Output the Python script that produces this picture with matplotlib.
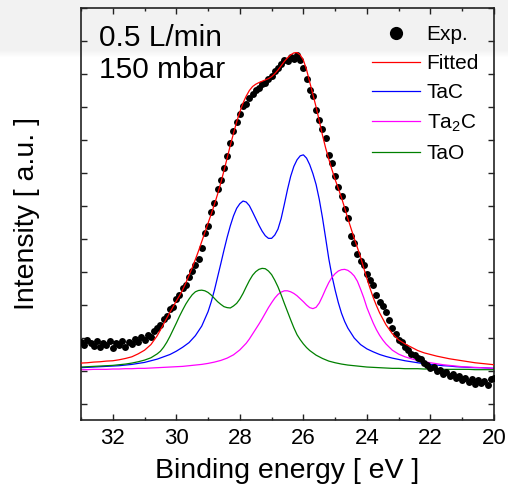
import numpy as np
import matplotlib
matplotlib.use("Agg")
import matplotlib.pyplot as plt
from matplotlib.ticker import MultipleLocator

plt.rcParams['font.family'] = ['Liberation Sans', 'DejaVu Sans']
plt.rcParams['mathtext.fontset'] = 'custom'
plt.rcParams['mathtext.rm'] = 'Liberation Sans'
plt.rcParams['mathtext.it'] = 'Liberation Sans:italic'


def grid(start, stop, step):
    """Binding-energy positions from start down to stop (inclusive)."""
    n = int(round((start - stop) / step)) + 1
    return np.round(start - step * np.arange(n), 2)


# ---------------- data ----------------
# experimental points: binding energy 33.0 -> 20.0 eV, step 0.1
exp_energy = grid(33.0, 20.0, 0.1)
exp_intensity = [
    1.88, 1.80, 1.93, 1.84, 1.76, 1.90, 1.72, 1.85, 1.78, 1.92,
    1.70, 1.86, 1.79, 1.91, 1.74, 1.88, 1.83, 1.96, 1.87, 2.02,
    1.94, 2.08, 2.04, 2.22, 2.30, 2.38, 2.58, 2.66, 2.88, 2.95,
    3.18, 3.30, 3.52, 3.62, 3.86, 4.02, 4.22, 4.40, 4.74, 5.18,
    5.40, 5.82, 6.10, 6.50, 6.78, 7.15, 7.52, 7.92, 8.28, 8.55,
    8.78, 9.02, 9.10, 9.28, 9.40, 9.52, 9.58, 9.70, 9.72, 9.86,
    9.95, 10.08, 10.18, 10.30, 10.42, 10.38, 10.52, 10.45, 10.58, 10.42,
    10.18, 9.85, 9.50, 9.32, 8.90, 8.62, 8.32, 8.05, 7.55, 7.30,
    6.90, 6.58, 6.30, 5.90, 5.65, 5.10, 4.88, 4.55, 4.32, 4.20,
    3.95, 3.76, 3.62, 3.30, 3.10, 2.98, 2.78, 2.55, 2.30, 2.12,
    1.95, 1.88, 1.72, 1.65, 1.52, 1.48, 1.38, 1.36, 1.25, 1.18,
    1.08, 1.12, 1.00, 1.04, 0.92, 0.96, 0.84, 0.90, 0.78, 0.86,
    0.72, 0.80, 0.66, 0.76, 0.62, 0.74, 0.64, 0.70, 0.58, 0.76,
    0.80,
]

# Fitted envelope
fitted_energy = np.concatenate([grid(33.0, 30.2, 0.2), grid(30.0, 23.6, 0.1),
                                grid(23.4, 20.0, 0.2)])
fitted = [
    1.24, 1.25, 1.27, 1.28, 1.30, 1.31, 1.34, 1.38, 1.43, 1.52,
    1.63, 1.80, 2.07, 2.42, 2.78,
    3.12, 3.28, 3.46, 3.67, 3.90, 4.13, 4.38, 4.64, 4.92, 5.20,
    5.48, 5.76, 6.05, 6.36, 6.70, 7.07, 7.45, 7.84, 8.20, 8.55,
    8.85, 9.12, 9.33, 9.50, 9.62, 9.69, 9.74, 9.78, 9.82, 9.86,
    9.92, 10.01, 10.12, 10.25, 10.38, 10.49, 10.58, 10.64, 10.65, 10.58,
    10.42, 10.13, 9.75, 9.38, 9.00, 8.58, 8.15, 7.76, 7.42, 7.10,
    6.80, 6.53, 6.25, 5.94, 5.62, 5.32, 5.02, 4.74, 4.45, 4.12,
    3.80, 3.50, 3.22, 2.98, 2.76,
    2.40, 2.13, 1.94, 1.82, 1.72, 1.62, 1.55, 1.50, 1.45, 1.41,
    1.37, 1.34, 1.31, 1.28, 1.25, 1.23, 1.21, 1.19,
]

# TaC component
tac_energy = np.concatenate([grid(33.0, 29.2, 0.2), grid(29.0, 24.6, 0.1),
                             grid(24.4, 20.0, 0.2)])
tac = [
    1.10, 1.11, 1.12, 1.13, 1.14, 1.15, 1.16, 1.18, 1.20, 1.23,
    1.26, 1.31, 1.36, 1.43, 1.50, 1.60, 1.72, 1.86, 2.07, 2.36,
    2.80, 3.10, 3.45, 3.85, 4.25, 4.66, 5.05, 5.40, 5.70, 5.93,
    6.07, 6.15, 6.12, 6.01, 5.82, 5.62, 5.42, 5.24, 5.10, 5.02,
    5.02, 5.12, 5.30, 5.62, 6.05, 6.50, 6.90, 7.20, 7.40, 7.52,
    7.55, 7.45, 7.25, 6.98, 6.65, 6.20, 5.65, 5.03, 4.40, 3.88,
    3.45, 3.07, 2.75, 2.50, 2.30,
    2.00, 1.80, 1.67, 1.58, 1.50, 1.44, 1.39, 1.35, 1.31, 1.28,
    1.25, 1.22, 1.20, 1.18, 1.16, 1.15, 1.13, 1.12, 1.11, 1.10,
    1.10, 1.09, 1.08,
]

# Ta2C component
ta2c_energy = np.concatenate([grid(33.0, 28.0, 0.2), grid(27.8, 23.4, 0.1),
                              grid(23.2, 20.0, 0.2)])
ta2c = [
    1.04, 1.04, 1.05, 1.05, 1.05, 1.06, 1.06, 1.07, 1.07, 1.08,
    1.08, 1.09, 1.10, 1.11, 1.12, 1.13, 1.14, 1.16, 1.18, 1.20,
    1.23, 1.27, 1.32, 1.39, 1.49, 1.64,
    1.84, 1.97, 2.12, 2.27, 2.42, 2.58, 2.75, 2.92, 3.07, 3.21,
    3.32, 3.39, 3.43, 3.43, 3.40, 3.35, 3.28, 3.19, 3.10, 3.00,
    2.92, 2.89, 2.93, 3.06, 3.26, 3.48, 3.68, 3.84, 3.95, 4.03,
    4.07, 4.08, 4.05, 3.98, 3.88, 3.72, 3.48, 3.22, 2.92, 2.68,
    2.45, 2.25, 2.08, 1.94, 1.82,
    1.63, 1.51, 1.43, 1.37, 1.32, 1.28, 1.25, 1.22, 1.19, 1.17,
    1.15, 1.13, 1.12, 1.11, 1.10, 1.09, 1.08,
]

# TaO component
tao_energy = np.concatenate([grid(33.0, 30.8, 0.2), grid(30.6, 25.8, 0.1),
                             grid(25.6, 20.0, 0.2)])
tao = [
    1.12, 1.13, 1.14, 1.15, 1.16, 1.17, 1.19, 1.21, 1.24, 1.28,
    1.33, 1.40,
    1.52, 1.60, 1.72, 1.87, 2.05, 2.25, 2.45, 2.66, 2.85, 3.03,
    3.18, 3.31, 3.40, 3.44, 3.45, 3.43, 3.38, 3.30, 3.20, 3.10,
    3.02, 2.95, 2.92, 2.91, 2.97, 3.05, 3.18, 3.35, 3.55, 3.74,
    3.90, 4.01, 4.08, 4.11, 4.10, 4.03, 3.92, 3.75, 3.55, 3.31,
    3.05, 2.80, 2.55, 2.31, 2.10, 1.95, 1.82, 1.71, 1.62,
    1.48, 1.38, 1.30, 1.25, 1.21, 1.18, 1.16, 1.14, 1.12, 1.11,
    1.10, 1.09, 1.08, 1.08, 1.07, 1.07, 1.07, 1.06, 1.06, 1.06,
    1.05, 1.05, 1.05, 1.05, 1.05, 1.04, 1.04, 1.04, 1.04,
]

x_ticks = [32, 30, 28, 26, 24, 22, 20]
annotation = ["0.5 L/min", "150 mbar"]

# ---------------- figure ----------------
fig = plt.figure(figsize=(5.08, 4.99), dpi=100)
fig.patch.set_facecolor('white')

# light slide-like grey band at the top
bg = fig.add_axes([0, 0, 1, 1], zorder=-10)
grad = np.ones(499)
grad[:50] = 0.952
grad[50:58] = np.linspace(0.952, 1.0, 8)
img = np.repeat(grad[:, None, None], 3, axis=2).repeat(2, axis=1)
bg.imshow(img, aspect='auto', extent=[0, 1, 0, 1], interpolation='bilinear')
bg.axis('off')

ax = fig.add_axes([81 / 508, 79 / 499, 413 / 508, 412 / 499])
ax.set_facecolor('none')

lw = 0.9
ax.plot(exp_energy, exp_intensity, 'o', color='black', ms=5.0, mew=0,
        label='Exp.', zorder=3)
ax.plot(fitted_energy, fitted, '-', color='#ff0000', lw=lw, label='Fitted', zorder=4)
ax.plot(tac_energy, tac, '-', color='#0000ff', lw=lw, label='TaC', zorder=2)
ax.plot(ta2c_energy, ta2c, '-', color='#ff00ff', lw=lw, label='Ta$_2$C', zorder=2)
ax.plot(tao_energy, tao, '-', color='#008000', lw=lw, label='TaO', zorder=2)

ax.set_xlim(33, 20)
ax.set_ylim(-0.485, 12.0)
ax.set_xticks(x_ticks)
ax.xaxis.set_minor_locator(MultipleLocator(1))
ax.yaxis.set_major_locator(MultipleLocator(1))
ax.set_yticklabels([])
ax.tick_params(axis='both', which='both', direction='in', top=True, right=True,
               width=1.0, color='#222222')
ax.tick_params(axis='both', which='major', length=4.5)
ax.tick_params(axis='x', which='minor', length=2.5)
ax.tick_params(axis='x', labelsize=16, pad=6)
for s in ax.spines.values():
    s.set_linewidth(1.2)
    s.set_color('#222222')

ax.set_xlabel('Binding energy [ eV ]', fontsize=20.5, labelpad=6)
ax.set_ylabel('Intensity [ a.u. ]', fontsize=20.5, labelpad=26)

ax.text(99 / 508, 1 - 24 / 499, annotation[0] + "\n" + annotation[1],
        transform=fig.transFigure, fontsize=21.5, va='top', ha='left',
        linespacing=1.17)

leg = ax.legend(loc='upper right', bbox_to_anchor=(479 / 508, 1 - 25 / 499),
                bbox_transform=fig.transFigure, frameon=False,
                fontsize=15, handlelength=2.3, handletextpad=0.34,
                labelspacing=0.49, markerscale=1.9, borderaxespad=0,
                borderpad=0)

fig.savefig('out.png', dpi=100)
